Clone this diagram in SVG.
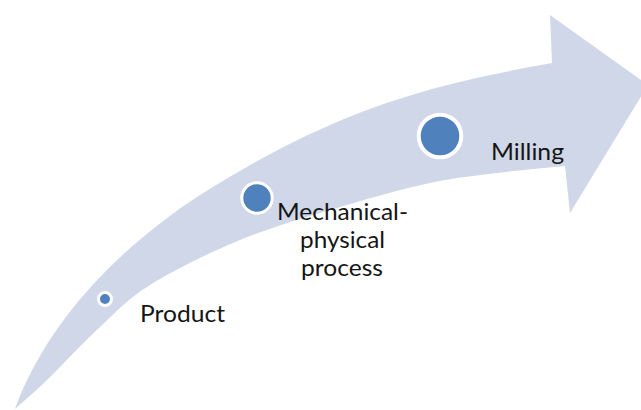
<svg xmlns="http://www.w3.org/2000/svg" width="641" height="410" viewBox="0 0 641 410">
  <style>
    .band { fill: #D0D7E8; stroke: none; }
    .dot { fill: #4F81BD; stroke: #FFFFFF; }
    .lbl { font-family: Lato, "Open Sans", "Liberation Sans", sans-serif; font-size: 23.3px; fill: #151515; }
  </style>
  <rect width="641" height="410" fill="#FFFFFF"/>
  <g id="arrow">
    <path class="band" d="M15,409 C47,321 120,247 200,195 C340,106.8 432,84.6 552,63 L550,15 L648,85 L570,213 L565,166 C553.7,167.2 519.5,170.2 497,173 C474.5,175.8 456.2,177.3 430,183 C403.8,188.7 371.7,197.5 340,207 C308.3,216.5 271.7,227 240,240 C208.3,253 173.3,270.5 150,285 C126.7,299.5 117.2,311.2 100,327 C82.8,342.8 61.2,366.3 47,380 C32.8,393.7 20.3,404.2 15,409 Z"/>
  </g>
  <g id="connectors"></g>
  <g id="node-product">
    <circle class="dot" cx="105" cy="299" r="6.5" stroke-width="3"/>
    <text class="lbl" x="140" y="322" textLength="85" lengthAdjust="spacingAndGlyphs">Product</text>
  </g>
  <g id="node-mechanical">
    <circle class="dot" cx="257" cy="198" r="15.2" stroke-width="3"/>
    <text class="lbl" x="277" y="220" textLength="131" lengthAdjust="spacingAndGlyphs">Mechanical-</text>
    <text class="lbl" x="300" y="248" textLength="85" lengthAdjust="spacingAndGlyphs">physical</text>
    <text class="lbl" x="301" y="276" textLength="82" lengthAdjust="spacingAndGlyphs">process</text>
  </g>
  <g id="node-milling">
    <circle class="dot" cx="440" cy="136" r="21.3" stroke-width="4"/>
    <text class="lbl" x="491" y="160" textLength="73" lengthAdjust="spacingAndGlyphs">Milling</text>
  </g>
</svg>
